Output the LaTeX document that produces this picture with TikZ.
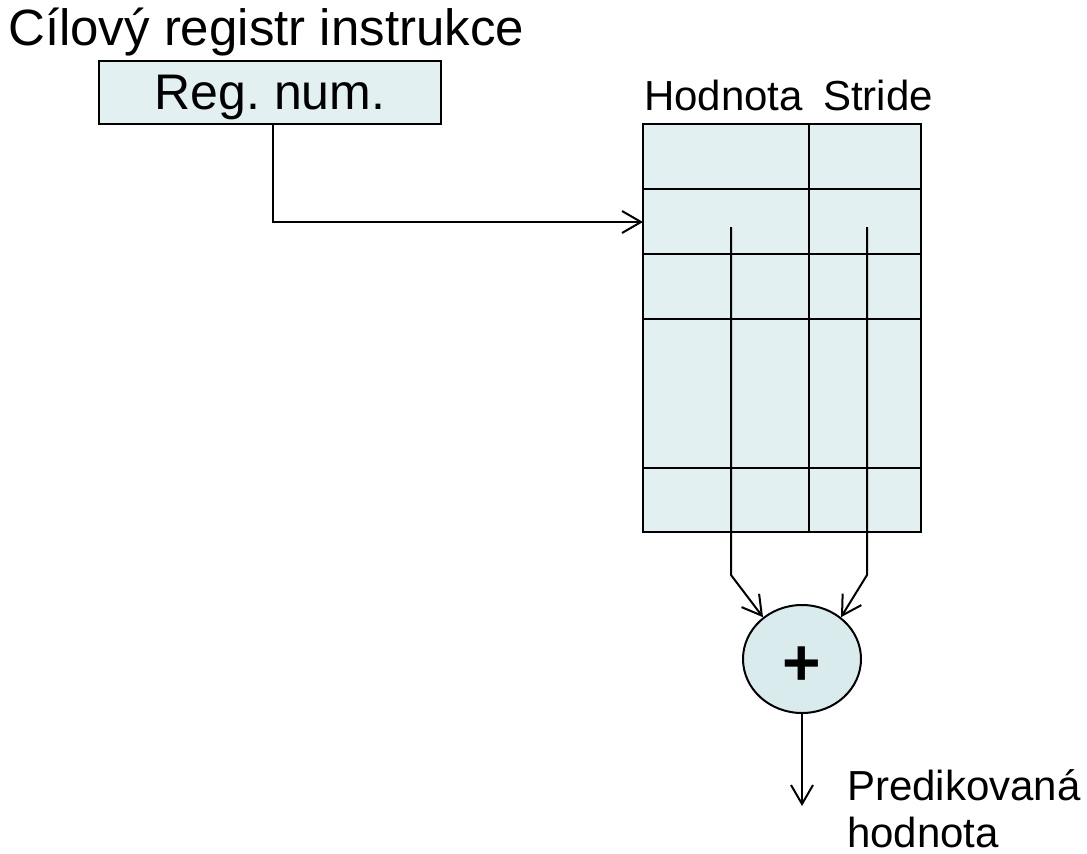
\documentclass[tikz,border=0pt]{standalone}
\usepackage{fontspec}
\setmainfont{Liberation Sans}
\usetikzlibrary{arrows.meta,shapes.geometric}
\definecolor{cellfill}{RGB}{226,240,242}
\definecolor{sumfill}{RGB}{218,235,238}
\tikzset{
  box/.style={draw, line width=2.2pt, fill=cellfill, inner sep=0pt},
  grid/.style={line width=2.2pt},
  conn/.style={line width=2pt},
  arr/.style={conn, -{Straight Barb[length=19pt,width=22pt,line width=2pt]}},
  big/.style={font=\fontsize{51}{58}\selectfont, inner sep=0pt},
  mid/.style={font=\fontsize{42}{48}\selectfont, inner sep=0pt},
}
\begin{document}
\begin{tikzpicture}[x=1pt,y=-1pt]
\useasboundingbox (0,0) rectangle (1087,854);
% title
\node[big, anchor=base west] (title) at (8,45) {Cílový registr instrukce};
% register number box
\node[box, minimum width=342pt, minimum height=63pt, font=\fontsize{50}{56}\selectfont, text depth=0pt] (reg) at (270,92.5) {Reg.\ num.};
% table
\node[box, minimum width=278pt, minimum height=408pt] (tab) at (782,328) {};
\draw[grid] (809,124) -- (809,532);
\foreach \y in {189,254,319,468} \draw[grid] (643,\y) -- (921,\y);
% column headers
\node[mid, anchor=base west] (hod) at (644,110) {Hodnota};
\node[mid, anchor=base west] (str) at (823,110) {Stride};
% adder
\node[draw, line width=2pt, fill=sumfill, ellipse, minimum width=118pt, minimum height=108pt, inner sep=0pt, font=\bfseries\fontsize{66}{70}\selectfont] (sum) at (802,659) {\smash{\raisebox{-26pt}{+}}};
% connectors
\coordinate (regout) at (273,124);
\coordinate (tabin) at (643,222);
\draw[arr] (regout) |- (tabin);
\coordinate (v1) at (731,227);
\coordinate (b1) at (731,575);
\coordinate (v2) at (867,227);
\coordinate (b2) at (867,575);
\draw[arr] (v1) -- (b1) -- (sum.133);
\draw[arr] (v2) -- (b2) -- (sum.47);
\coordinate (outend) at (802,806);
\draw[arr] (sum.south) -- (outend);
% output label
\node[mid, anchor=base west] (pred) at (847,800) {Predikovaná};
\node[mid, anchor=base west] (pred2) at (847,847) {hodnota};
\end{tikzpicture}
\end{document}
